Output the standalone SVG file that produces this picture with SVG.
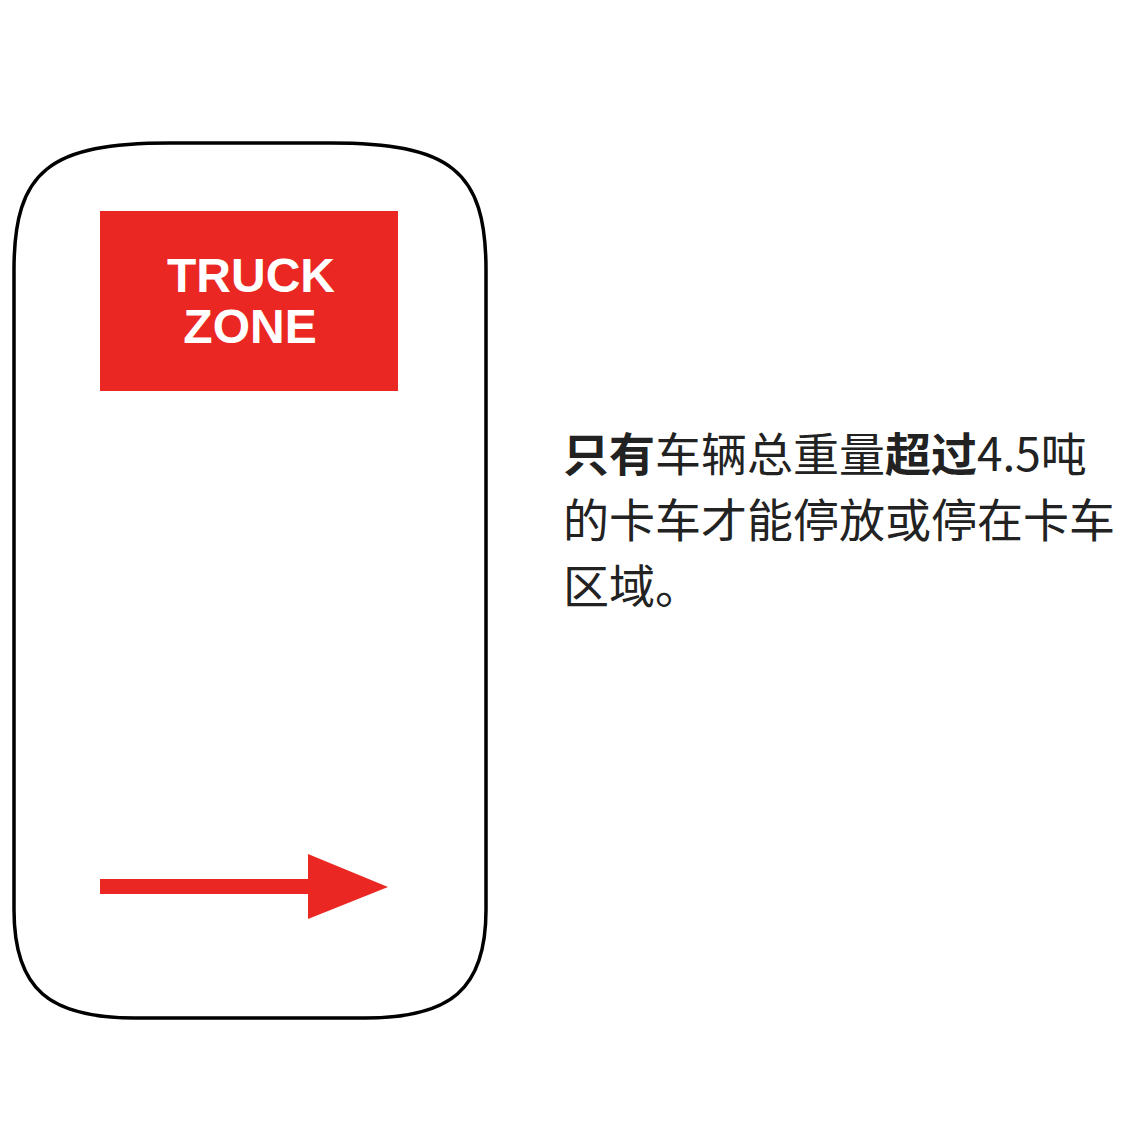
<svg xmlns="http://www.w3.org/2000/svg" width="1127" height="1127" viewBox="0 0 1127 1127">
<style>
.outline{fill:#fff;stroke:#000;stroke-width:3.5}
.red{fill:#EA2722}
.sign{font-family:"Liberation Sans",Arial,sans-serif;font-weight:bold;font-size:48px;fill:#fff;text-anchor:middle}
.desc{font-family:"Noto Sans CJK SC","Noto Sans",sans-serif;font-size:46px;fill:#222}
.b{font-weight:bold}
</style>
<rect width="1127" height="1127" fill="#fff"/>
<g id="panel">
<path class="outline" d="M170,143 L330,143 C450,143 486,170 486,270 L486,910 C486,990 450,1018 365,1018 L135,1018 C50,1018 14,990 14,910 L14,270 C14,170 50,143 170,143 Z"/>
</g>
<g id="sign">
<rect class="red" x="100" y="211" width="298" height="180"/>
<text class="sign" x="251" y="292">TRUCK</text>
<text class="sign" x="250" y="343">ZONE</text>
</g>
<g id="arrow">
<polygon class="red" points="100,879 308,879 308,854 388,887 308,919 308,894 100,894"/>
</g>
<g id="caption">
<text class="desc" x="563" y="471"><tspan class="b">只有</tspan>车辆总重量<tspan class="b">超过</tspan>4.5吨</text>
<text class="desc" x="563" y="537">的卡车才能停放或停在卡车</text>
<text class="desc" x="563" y="603">区域。</text>
</g>
</svg>
